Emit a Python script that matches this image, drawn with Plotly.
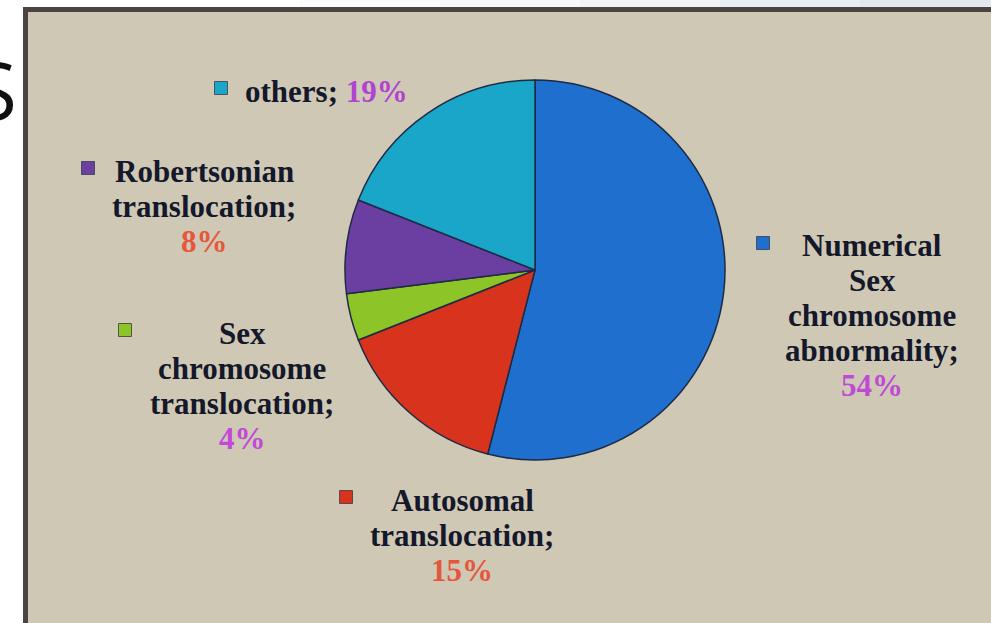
import plotly.graph_objects as go

# ---- data -------------------------------------------------------------
categories = [
    "Numerical Sex chromosome abnormality",
    "Autosomal translocation",
    "Sex chromosome translocation",
    "Robertsonian translocation",
    "others",
]
shares = [54, 15, 4, 8, 19]
slice_colors = ["#1F70CE", "#D8331D", "#8DC428", "#6B3FA2", "#1AA6C9"]
pct_colors = ["#C04AD6", "#E4573C", "#C04AD6", "#E4573C", "#B044CF"]

# how each category name wraps in its label block
label_lines = [
    ["Numerical", "Sex", "chromosome", "abnormality;"],
    ["Autosomal", "translocation;"],
    ["Sex", "chromosome", "translocation;"],
    ["Robertsonian", "translocation;"],
    ["others;"],
]

W, H = 991, 623
BG = "#CFC8B5"
TEXT = "#15182B"
FONT = "Liberation Serif"
FS = 31
LINE = 35


def px(x):
    return x / W


def py(y):
    return 1 - y / H


# pie geometry (pixels)
cx, cy, r = 535, 270, 190

fig = go.Figure()
fig.add_trace(go.Pie(
    labels=categories,
    values=shares,
    sort=False,
    direction="clockwise",
    rotation=0,
    textinfo="none",
    hoverinfo="label+percent",
    marker=dict(colors=slice_colors, line=dict(color="#1E2B45", width=1.5)),
    domain=dict(x=[px(cx - r), px(cx + r)], y=[py(cy + r), py(cy - r)]),
    showlegend=False,
))

shapes = []
annotations = []

# slide strip above the chart panel (white fading to pale blue-grey)
strip = ["#FBFBFD", "#F6F7FA", "#F0F2F6", "#EAEDF2", "#E5E8EF"]
for i, c in enumerate(strip):
    x0 = 300 + i * 140
    shapes.append(dict(type="rect", xref="paper", yref="paper",
                       x0=px(x0), x1=px(x0 + 140) if i < 4 else 1.0,
                       y0=py(8), y1=1.0, fillcolor=c, line_width=0, layer="below"))

# chart panel with its dark frame
shapes.append(dict(type="rect", xref="paper", yref="paper",
                   x0=px(25.5), x1=px(W + 20), y0=py(H + 20), y1=py(9.5),
                   fillcolor=BG, line=dict(color="#4A4540", width=5), layer="below"))

# label blocks: (key square centre, text centre x, first line y)
blocks = [
    ((763, 243), 872, 245),
    ((346, 497), 462, 500),
    ((125, 330), 242, 333),
    ((88, 168), 204, 171),
]
for i, ((kx, ky), tx, ty) in enumerate(blocks):
    lines = label_lines[i] + [f"{shares[i]}%"]
    for j, line in enumerate(lines):
        last = j == len(lines) - 1
        annotations.append(dict(
            xref="paper", yref="paper", x=px(tx), y=py(ty + j * LINE),
            xanchor="center", yanchor="middle", showarrow=False,
            text=f"<b>{line}</b>",
            font=dict(family=FONT, size=FS, color=pct_colors[i] if last else TEXT),
        ))
    shapes.append(dict(type="rect", xref="paper", yref="paper",
                       x0=px(kx - 6.5), x1=px(kx + 6.5), y0=py(ky + 6.5), y1=py(ky - 6.5),
                       fillcolor=slice_colors[i], line=dict(color="#3A3A4A", width=0.8)))

# "others" label on one line
k = 4
annotations.append(dict(
    xref="paper", yref="paper", x=px(243), y=py(91),
    xanchor="left", yanchor="middle", showarrow=False,
    text=f"<b>{label_lines[k][0]} <span style='color:{pct_colors[k]}'>{shares[k]}%</span></b>",
    font=dict(family=FONT, size=FS, color=TEXT),
))
shapes.append(dict(type="rect", xref="paper", yref="paper",
                   x0=px(221 - 6.5), x1=px(221 + 6.5), y0=py(88 + 6.5), y1=py(88 - 6.5),
                   fillcolor=slice_colors[k], line=dict(color="#3A3A4A", width=0.8)))

# slide title letter peeking out at the left of the panel
annotations.append(dict(
    xref="paper", yref="paper", x=px(19), y=py(88),
    xanchor="right", yanchor="middle", showarrow=False,
    text="S", font=dict(family="Open Sans", size=80, color="#111111"),
))

fig.update_layout(
    width=W, height=H,
    margin=dict(l=0, r=0, t=0, b=0),
    paper_bgcolor="#FFFFFF",
    plot_bgcolor="#FFFFFF",
    shapes=shapes,
    annotations=annotations,
)

fig.write_html("out.html", config={"displayModeBar": False})
